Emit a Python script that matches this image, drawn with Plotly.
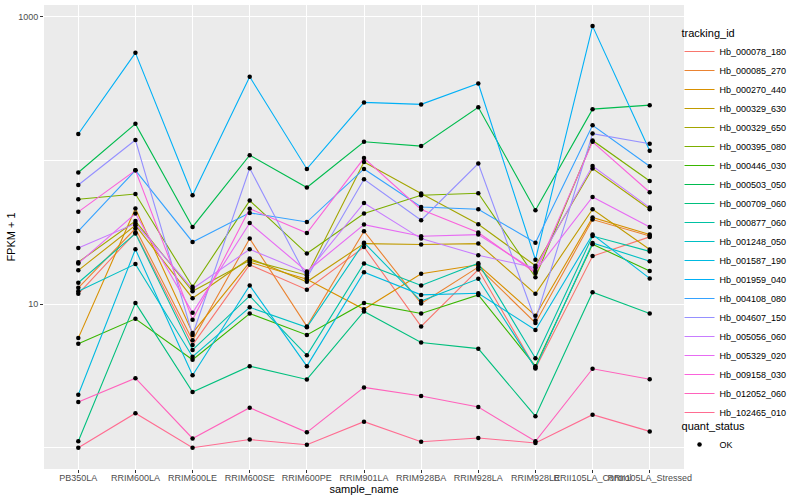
import plotly.graph_objects as go

samples = ["PB350LA", "RRIM600LA", "RRIM600LE", "RRIM600SE", "RRIM600PE",
           "RRIM901LA", "RRIM928BA", "RRIM928LA", "RRIM928LE",
           "RRII105LA_Control", "RRII105LA_Stressed"]

tracking_ids = ["Hb_000078_180", "Hb_000085_270", "Hb_000270_440", "Hb_000329_630",
                "Hb_000329_650", "Hb_000395_080", "Hb_000446_030", "Hb_000503_050",
                "Hb_000709_060", "Hb_000877_060", "Hb_001248_050", "Hb_001587_190",
                "Hb_001959_040", "Hb_004108_080", "Hb_004607_150", "Hb_005056_060",
                "Hb_005329_020", "Hb_009158_030", "Hb_012052_060", "Hb_102465_010"]

# FPKM + 1 per sample (order of `samples`)
hb_000078_180 = [11.8, 31.5, 5.2, 18.8, 12.6, 25.0, 7.0, 17.4, 3.57, 21.6, 29.4]
hb_000085_270 = [13.0, 33.6, 5.6, 28.6, 7.0, 32.2, 10.1, 18.1, 7.4, 38.8, 29.8]
hb_000270_440 = [5.8, 46.3, 6.3, 19.6, 14.9, 9.2, 16.3, 18.8, 8.3, 40.1, 30.5]
hb_000329_630 = [17.2, 35.4, 11.0, 20.8, 14.3, 26.4, 26.0, 26.4, 11.8, 45.8, 24.0]
hb_000329_650 = [19.6, 37.9, 12.3, 20.2, 15.9, 97.7, 58.9, 36.0, 18.5, 87.9, 45.8]
hb_000395_080 = [53.7, 58.5, 13.2, 52.6, 22.5, 42.7, 57.3, 59.2, 15.4, 138, 72.1]
hb_000446_030 = [5.3, 7.9, 4.1, 8.6, 6.1, 10.2, 8.6, 11.6, 3.7, 26.1, 17.0]
hb_000503_050 = [82.5, 180, 34.5, 109, 64.9, 135, 126, 235, 45.1, 228, 243]
hb_000709_060 = [1.11, 10.2, 2.44, 3.7, 2.99, 8.9, 5.4, 4.9, 1.66, 12.1, 8.6]
hb_000877_060 = [14.1, 31.0, 4.8, 11.4, 4.4, 19.2, 13.5, 19.3, 4.2, 29.8, 23.3]
hb_001248_050 = [12.3, 19.0, 4.3, 9.5, 6.9, 26.8, 10.5, 15.0, 3.6, 26.7, 19.9]
hb_001587_190 = [2.34, 24.1, 3.2, 13.5, 3.7, 16.7, 11.6, 11.9, 6.6, 30.5, 15.1]
hb_001959_040 = [153, 562, 57.3, 383, 87.4, 254, 246, 344, 20.4, 863, 117]
hb_004108_080 = [32.3, 85.5, 27.1, 43.2, 37.3, 87.4, 47.5, 45.8, 26.8, 176, 91.2]
hb_004607_150 = [67.6, 139, 6.1, 88.3, 15.3, 74.1, 38.4, 95.3, 7.7, 154, 131]
hb_005056_060 = [24.6, 36.4, 12.8, 24.1, 16.5, 50.6, 28.6, 21.9, 17.9, 91.6, 47.0]
hb_005329_020 = [19.2, 42.7, 8.7, 36.7, 16.9, 35.8, 29.7, 30.5, 17.0, 55.7, 34.5]
hb_009158_030 = [43.9, 85.5, 7.8, 46.2, 31.3, 104, 45.6, 31.5, 16.5, 135, 60.1]
hb_012052_060 = [2.08, 3.05, 1.16, 1.90, 1.28, 2.63, 2.29, 1.92, 1.11, 3.55, 3.0]
hb_102465_010 = [1.0, 1.74, 1.0, 1.14, 1.05, 1.52, 1.10, 1.17, 1.08, 1.70, 1.30]

series = [hb_000078_180, hb_000085_270, hb_000270_440, hb_000329_630, hb_000329_650,
          hb_000395_080, hb_000446_030, hb_000503_050, hb_000709_060, hb_000877_060,
          hb_001248_050, hb_001587_190, hb_001959_040, hb_004108_080, hb_004607_150,
          hb_005056_060, hb_005329_020, hb_009158_030, hb_012052_060, hb_102465_010]

colors = ["#F8766D", "#EA8331", "#D89000", "#C09B00", "#A3A500", "#7CAE00", "#39B600",
          "#00BB4E", "#00BF7D", "#00C1A3", "#00BFC4", "#00BAE0", "#00B0F6", "#35A2FF",
          "#9590FF", "#C77CFF", "#E76BF3", "#FA62DB", "#FF62BC", "#FF6C91"]

FONT = "Liberation Sans, Arial, Helvetica, sans-serif"

fig = go.Figure()
for tid, vals, col in zip(tracking_ids, series, colors):
    fig.add_trace(go.Scatter(x=samples, y=vals, mode="lines", name=tid,
                             line=dict(color=col, width=1.1), legend="legend"))

all_x = [s for vals in series for s in samples]
all_y = [v for vals in series for v in vals]
fig.add_trace(go.Scatter(x=all_x, y=all_y, mode="markers", name="OK",
                         marker=dict(color="black", size=4.5), legend="legend2"))

fig.update_layout(
    width=800, height=500,
    margin=dict(l=44, r=116, t=5, b=31, autoexpand=False),
    paper_bgcolor="white", plot_bgcolor="#EBEBEB",
    font=dict(family=FONT, size=9, color="black"),
    showlegend=True,
    legend=dict(title=dict(text="tracking_id", font=dict(size=11)),
                x=0.993, xanchor="left", y=0.962, yanchor="top",
                font=dict(size=9), bgcolor="rgba(0,0,0,0)", itemwidth=30,
                tracegroupgap=0),
    legend2=dict(title=dict(text="quant_status", font=dict(size=11)),
                 x=0.993, xanchor="left", y=0.115, yanchor="top",
                 font=dict(size=9), bgcolor="rgba(0,0,0,0)", itemwidth=30),
    xaxis=dict(type="category", categoryorder="array", categoryarray=samples,
               range=[-0.6, 10.6], tickangle=0, showgrid=True, gridcolor="white",
               gridwidth=1.1, zeroline=False, showline=False,
               ticks="outside", ticklen=3, tickcolor="#333333", tickwidth=1,
               ticklabelstandoff=-3,
               tickfont=dict(size=9, color="#4D4D4D"),
               title=dict(text="sample_name", font=dict(size=11), standoff=2)),
    yaxis=dict(type="log", range=[-0.148, 3.083], tickvals=[10, 1000],
               ticktext=["10", "1000"], showgrid=True, gridcolor="white",
               gridwidth=1.1, zeroline=False, showline=False,
               ticks="outside", ticklen=3, tickcolor="#333333", tickwidth=1,
               tickfont=dict(size=9, color="#4D4D4D"),
               minor=dict(tickvals=[1, 100], showgrid=True, gridcolor="white",
                          gridwidth=0.6, ticks=""),
               title=dict(text="FPKM + 1", font=dict(size=11), standoff=0)),
)

fig.write_html("out.html", config={"displayModeBar": False},
               post_script="document.body.style.margin='0';")
